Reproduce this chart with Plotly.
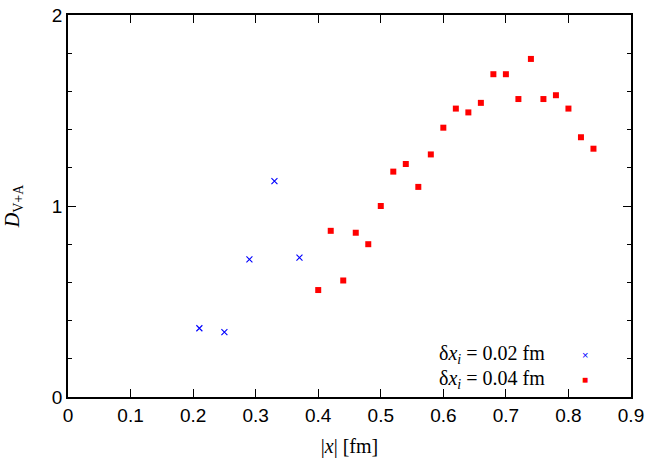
import plotly.graph_objects as go

# delta x_i = 0.02 fm
x_fine = [0.21, 0.25, 0.29, 0.33, 0.37]
d_fine = [0.36, 0.34, 0.72, 1.13, 0.73]

# delta x_i = 0.04 fm
x_coarse = [0.40, 0.42, 0.44, 0.46, 0.48, 0.50, 0.52, 0.54, 0.56, 0.58, 0.60, 0.62,
            0.64, 0.66, 0.68, 0.70, 0.72, 0.74, 0.76, 0.78, 0.80, 0.82, 0.84]
d_coarse = [0.56, 0.87, 0.61, 0.86, 0.80, 1.00, 1.18, 1.22, 1.10, 1.27, 1.41, 1.51,
            1.49, 1.54, 1.69, 1.69, 1.56, 1.77, 1.56, 1.58, 1.51, 1.36, 1.30]

legend_labels = ["δ<i>x</i><sub><i>i</i></sub> = 0.02 fm", "δ<i>x</i><sub><i>i</i></sub> = 0.04 fm"]

SERIF = "Liberation Serif"
SANS = "Liberation Sans"

fig = go.Figure()
fig.add_trace(go.Scatter(
    x=x_fine, y=d_fine, mode="markers", name=legend_labels[0],
    marker=dict(symbol="x-thin", size=6, line=dict(width=1.1, color="#0000ff"), color="#0000ff"),
))
fig.add_trace(go.Scatter(
    x=x_coarse, y=d_coarse, mode="markers", name=legend_labels[1],
    marker=dict(symbol="square", size=6, color="#ff0000"),
))

# gnuplot-style key: text right-aligned, sample to the right
for i, (lab, glyph, col) in enumerate(zip(legend_labels, ["×", "■"], ["#0000ff", "#ff0000"])):
    yy = 0.110 - i * 0.063
    fig.add_annotation(x=0.85, y=yy, xref="paper", yref="paper", text=lab,
                       showarrow=False, xanchor="right", yanchor="middle",
                       font=dict(family=SERIF, size=20, color="black"))
    fig.add_annotation(x=0.918, y=yy, xref="paper", yref="paper", text=glyph,
                       showarrow=False, xanchor="center", yanchor="middle",
                       font=dict(family=SANS, size=11 if i == 0 else 10, color=col))

axis_common = dict(
    showgrid=False, zeroline=False, showline=True, linecolor="black", linewidth=1.5,
    mirror="allticks", ticks="inside", ticklen=8, tickwidth=1, tickcolor="black",
    tickfont=dict(family=SANS, size=19, color="black"), automargin=False,
    ticklabeloverflow="allow",
)

fig.update_xaxes(range=[0, 0.9], dtick=0.1, tick0=0, tickformat="~g",
                 title=dict(text="|<i>x</i>| [fm]", font=dict(family=SERIF, size=20, color="black"),
                            standoff=14),
                 **axis_common)
fig.update_yaxes(range=[0, 2], dtick=1, tick0=0,
                 minor=dict(dtick=0.2, ticks="inside", ticklen=4, tickcolor="black", showgrid=False),
                 title=dict(text="<i>D</i><sub>V+A</sub>", font=dict(family=SERIF, size=20, color="black"),
                            standoff=27),
                 **axis_common)

fig.update_layout(
    width=654, height=459,
    margin=dict(l=68, r=23, t=15, b=62),
    plot_bgcolor="white", paper_bgcolor="white",
    showlegend=False,
)

# drop the default page margin so the figure sits at the window origin
fig.write_html("out.html", config={"displayModeBar": False},
               post_script="document.body.style.margin = '0';")
